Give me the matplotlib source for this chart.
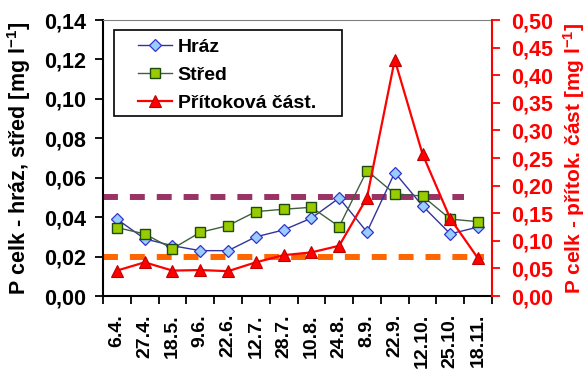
import numpy as np
import matplotlib
matplotlib.use('Agg')
import matplotlib.pyplot as plt
from matplotlib.patches import Rectangle

# data
dates=['6.4.','27.4.','18.5.','9.6.','22.6.','12.7.','28.7.','10.8.','24.8.','8.9.','22.9.','12.10.','25.10.','18.11.']
hraz=[0.039,0.029,0.0255,0.023,0.023,0.030,0.0335,0.0395,0.0497,0.0325,0.0626,0.0457,0.0315,0.035]
stred=[0.0347,0.0315,0.024,0.0323,0.0357,0.0428,0.044,0.045,0.0352,0.0636,0.0518,0.0507,0.039,0.0377]
pritok=[0.046,0.061,0.046,0.047,0.045,0.061,0.074,0.079,0.091,0.178,0.428,0.257,0.14,0.068]
limit_upper=0.05
limit_lower=0.02
yticks_left=[0.00,0.02,0.04,0.06,0.08,0.10,0.12,0.14]
yticks_right=[0.00,0.05,0.10,0.15,0.20,0.25,0.30,0.35,0.40,0.45,0.50]

plt.rcParams['font.family']=['Liberation Sans','DejaVu Sans']
plt.rcParams['font.weight']='bold'
plt.rcParams['mathtext.fontset']='custom'
plt.rcParams['mathtext.bf']='Liberation Sans:bold'
plt.rcParams['mathtext.rm']='Liberation Sans:bold'
plt.rcParams['mathtext.default']='bf'

def comma(v):
  return ('%.2f' % v).replace('.',',')

W,H=587,378
fig=plt.figure(figsize=(W/100,H/100),dpi=100)
x0,x1,y0,y1=103,492,20,296
ax=fig.add_axes([x0/W,1-y1/H,(x1-x0)/W,(y1-y0)/H])
ax2=ax.twinx()

n=len(dates)
x=np.arange(n)

# reference lines
ax.hlines(limit_upper,-0.5,12.5,color='#993366',lw=4.3,linestyle=(0,(2.5,2.0)),zorder=1)
ax.hlines(limit_lower,-0.5,13.2,color='#FF6600',lw=4.3,linestyle=(0,(2.5,2.0)),zorder=1)

l1,=ax.plot(x,hraz,color='#33339A',lw=1,marker='D',ms=6.5,mfc='#99CCFF',mec='#3333CC',mew=0.9,label='Hráz',zorder=3)
l2,=ax.plot(x,stred,color='#3F5F3F',lw=1,marker='s',ms=7.5,mfc='#99CC00',mec='#1F4A0F',mew=1,label='Střed',zorder=3)
l3,=ax2.plot(x,pritok,color='#FF0000',lw=1.6,marker='^',ms=8,mfc='#FF0000',mec='#C00000',mew=0.8,label='Přítoková část.',zorder=3)

ax.set_xlim(-0.5,n-0.5)
ax.set_ylim(0,0.14)
ax2.set_ylim(0,0.5)

ax.set_yticks(yticks_left)
ax.set_yticklabels([comma(v) for v in yticks_left],fontsize=15.5)
ax2.set_yticks(yticks_right)
ax2.set_yticklabels([comma(v) for v in yticks_right],fontsize=15.5,color='#FF0000')

ax.set_xticks(np.arange(n+1)-0.5)
ax.set_xticklabels([])
ax.set_xticks(x,minor=True)
ax.set_xticklabels(dates,minor=True,rotation=90,fontsize=14,va='top',ha='center')
ax.tick_params(axis='x',which='major',direction='out',length=6,width=1.3)
ax.tick_params(axis='x',which='minor',length=0,pad=13)
ax.tick_params(axis='y',direction='out',length=6,width=1.3,pad=6)
ax2.tick_params(axis='y',direction='out',length=6,width=1.3,pad=8,colors='#FF0000')
ax2.tick_params(axis='x',which='both',length=0)

for s in ['left','bottom']:
  ax.spines[s].set_linewidth(1.5)
ax.spines['top'].set_color('#808080')
ax.spines['top'].set_linewidth(0.8)
ax.spines['right'].set_visible(False)
ax2.spines['left'].set_visible(False)
ax2.spines['bottom'].set_visible(False)
ax2.spines['top'].set_visible(False)
ax2.spines['right'].set_color('#FF0000')
ax2.spines['right'].set_linewidth(1.5)

ax.set_ylabel('P celk - hráz, střed [mg l$^{-1}$]',fontsize=15.5,fontweight='bold')
ax.yaxis.set_label_coords(-(x0-33)/(x1-x0),0.5)
ax2.set_ylabel('P celk - přítok. část [mg l$^{-1}$]',fontsize=15,fontweight='bold',color='#FF0000')
ax2.yaxis.set_label_coords(1+(561-x1)/(x1-x0),0.5)

# legend with a plain black box
leg=fig.legend(handles=[l1,l2,l3],loc='upper left',bbox_to_anchor=(138/W,1-38/H),
               frameon=False,fontsize=14,handlelength=1.75,handletextpad=0.3,
               labelspacing=0.55,borderpad=0,borderaxespad=0)
fig.patches.append(Rectangle((114/W,1-116/H),(342-114)/W,(116-30)/H,transform=fig.transFigure,
                             fill=False,edgecolor='black',lw=1.2,zorder=5))

fig.savefig('out.png',dpi=100)
